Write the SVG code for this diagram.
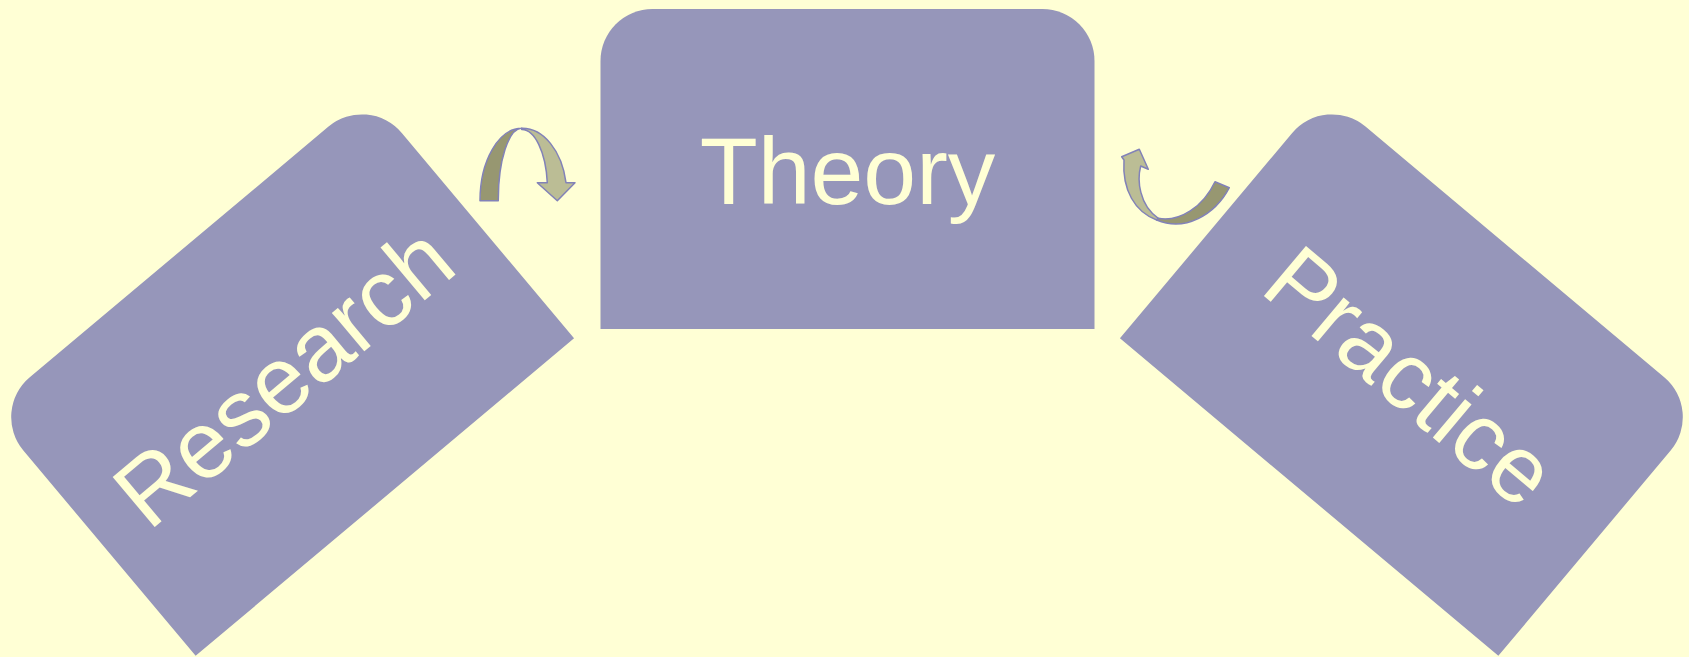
<svg xmlns="http://www.w3.org/2000/svg" width="1689" height="657" viewBox="0 0 1689 657">
<defs>
<style>
.box{fill:#9696BA;stroke:none}
.lbl{font-family:"Liberation Sans",Arial,sans-serif;font-size:95px;fill:#FFFFD5;text-anchor:middle}
.dk{fill:#979771;stroke:#8282B8;stroke-width:1.5;stroke-linejoin:round}
.lt{fill:#BBBD95;stroke:#8282B8;stroke-width:1.5;stroke-linejoin:round}
</style>
<path id="tab" d="M -247,160 L -247,-108 A 52 52 0 0 1 -195,-160 L 195,-160 A 52 52 0 0 1 247,-108 L 247,160 Z"/>
</defs>
<rect x="0" y="0" width="1689" height="657" fill="#FFFFD5"/>
<g id="node-theory" transform="translate(847.5,169)">
<use href="#tab" class="box"/>
<text class="lbl" x="0" y="35">Theory</text>
</g>
<g id="node-research" transform="translate(282,374.5) rotate(-40)">
<use href="#tab" class="box"/>
<text class="lbl" x="0" y="35">Research</text>
</g>
<g id="node-practice" transform="translate(1412,374.5) rotate(40)">
<use href="#tab" class="box"/>
<text class="lbl" x="0" y="35">Practice</text>
</g>
<g id="connectors">
<g id="arrow-research-theory">
<path class="dk" d="M 480,200.7 A 41.7 72.4 0 0 1 521.7,128.3 A 23.4 71.2 0 0 0 498.3,200.7 Z"/>
<path class="lt" d="M 521.7,128.3 A 44.5 67 0 0 1 566,182.7 L 575,182.7 L 557.3,200.7 L 537.3,182.7 L 547.3,182.7 A 25.6 60 0 0 0 521.7,129.5 Z"/>
</g>
<g id="arrow-practice-theory">
<path class="lt" d="M 1124,160 L 1121.7,156.7 L 1139.3,149.3 L 1148.3,169.3 L 1140.7,166 C 1137,180 1139,205 1158.3,218.3 L 1156.7,220 C 1135,212 1122,190 1124,160 Z"/>
<path class="dk" d="M 1156.7,220 C 1185,232 1215,215 1229.3,187.7 L 1215,181.7 C 1203,207 1180,222 1158.3,218.3 Z"/>
</g>
</g>
</svg>
